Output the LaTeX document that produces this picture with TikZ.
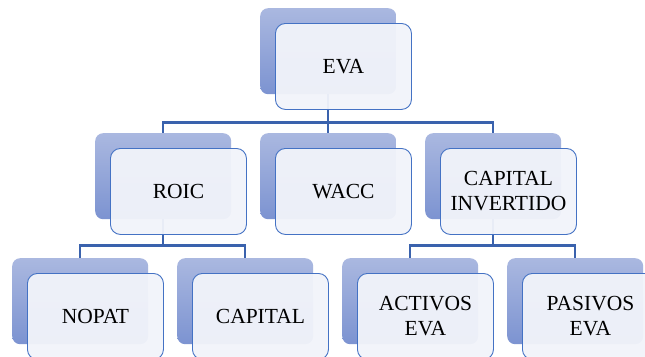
\documentclass[tikz,border=0pt]{standalone}
\usepackage{fontspec}
\setmainfont{Liberation Serif}
\usetikzlibrary{positioning}
\definecolor{backtop}{HTML}{AAB8E0}
\definecolor{backbot}{HTML}{7C93D1}
\definecolor{frontfill}{HTML}{F2F4FA}
\definecolor{frontline}{HTML}{4472C4}
\definecolor{connline}{HTML}{3A62AD}
\tikzset{
  backbox/.style={anchor=north west, rectangle, rounded corners=8pt, minimum width=136pt, minimum height=86pt, inner sep=0pt, top color=backtop, bottom color=backbot, draw=none},
  frontbox/.style={anchor=north west, rectangle, rounded corners=10pt, minimum width=136pt, minimum height=86pt, inner sep=0pt, draw=frontline, line width=0.9pt, fill=frontfill, fill opacity=0.95, text opacity=1, align=center, font=\fontsize{21.5}{25}\selectfont},
  conn/.style={draw=connline, line width=2.2pt}
}
\begin{document}
\begin{tikzpicture}[x=1pt,y=-1pt]
\clip (0,0) rectangle (645,356);
\fill[white] (0,0) rectangle (645,356);
% back boxes
\node[backbox] (b1) at (260,8) {};
\node[backbox] (b2) at (95,133) {};
\node[backbox] (b3) at (260,133) {};
\node[backbox] (b4) at (425,133) {};
\node[backbox] (b5) at (12,258) {};
\node[backbox] (b6) at (177,258) {};
\node[backbox] (b7) at (342,258) {};
\node[backbox] (b8) at (507,258) {};
% connectors
\draw[conn] (b1.south) -- ++(0,28) coordinate (h1) -| (b2.north);
\draw[conn] (h1) -| (b3.north);
\draw[conn] (h1) -| (b4.north);
\draw[conn] (b2.south) -- ++(0,26) coordinate (h2) -| (b5.north);
\draw[conn] (h2) -| (b6.north);
\draw[conn] (b4.south) -- ++(0,26) coordinate (h3) -| (b7.north);
\draw[conn] (h3) -| (b8.north);
% front boxes
\node[frontbox] (f1) at (275,23) {EVA};
\node[frontbox] (f2) at (110,148) {ROIC};
\node[frontbox] (f3) at (275,148) {WACC};
\node[frontbox] (f4) at (440,148) {CAPITAL\\INVERTIDO};
\node[frontbox] (f5) at (27,273) {NOPAT};
\node[frontbox] (f6) at (192,273) {CAPITAL};
\node[frontbox] (f7) at (357,273) {ACTIVOS\\EVA};
\node[frontbox] (f8) at (522,273) {PASIVOS\\EVA};
\end{tikzpicture}
\end{document}
